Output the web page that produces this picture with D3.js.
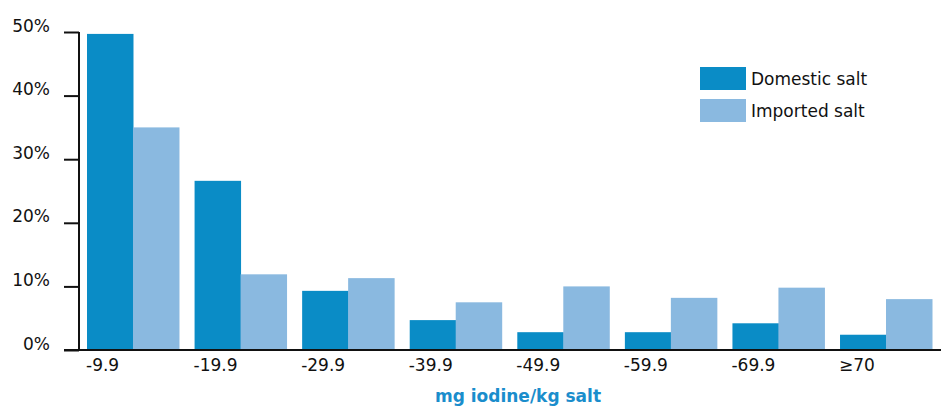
<!DOCTYPE html>
<html>
<head>
<meta charset="utf-8">
<script src="https://cdn.jsdelivr.net/npm/d3@7"></script>
<style>
  html, body { margin: 0; padding: 0; background: #fff; }
  svg { display: block; font-family: "DejaVu Sans", sans-serif; }
</style>
</head>
<body>
<svg id="chart" width="941" height="406"></svg>
<script>
// Iodine content bins (mg iodine/kg salt)
const categories = ["-9.9", "-19.9", "-29.9", "-39.9", "-49.9", "-59.9", "-69.9", "\u226570"];
// Share of samples in each bin, percent
const domestic = [49.7, 26.6, 9.3, 4.7, 2.8, 2.8, 4.2, 2.4];
const imported = [35.0, 11.9, 11.3, 7.5, 10.0, 8.2, 9.8, 8.0];
const seriesNames = ["Domestic salt", "Imported salt"];
const yTicks = [0, 10, 20, 30, 40, 50];

const colors = ["#0a8cc6", "#8ab9e0"];

const svg = d3.select("#chart");

const x = d3.scaleBand().domain(categories).range([87, 932]).paddingInner(0.145).paddingOuter(0);
const xSub = d3.scaleBand().domain([0, 1]).range([0, x.bandwidth()]);
const y = d3.scaleLinear().domain([0, 50]).range([350, 32]);

const rows = categories.map((c, i) => ({ cat: c, vals: [domestic[i], imported[i]] }));

// Bars
const groups = svg.append("g").selectAll("g").data(rows).join("g")
  .attr("transform", d => `translate(${x(d.cat)},0)`);
groups.selectAll("rect").data(d => d.vals).join("rect")
  .attr("x", (d, i) => xSub(i))
  .attr("width", xSub.bandwidth() + 0.5)
  .attr("y", d => y(d))
  .attr("height", d => y(0) - y(d))
  .attr("fill", (d, i) => colors[i]);

// Y axis
const yAxis = svg.append("g").attr("transform", "translate(79,0)")
  .call(d3.axisLeft(y).tickValues(yTicks).tickSize(15).tickFormat(d => d + "%"));
yAxis.select(".domain").attr("stroke", "#111").attr("stroke-width", 2)
  .attr("d", `M0,${y(50)}V${y(0)}`);
yAxis.selectAll(".tick line").attr("stroke", "#111").attr("stroke-width", 2);
yAxis.selectAll(".tick text")
  .attr("x", -29).attr("dy", "-0.05em")
  .attr("font-size", 17).attr("fill", "#111")
  .attr("font-family", "DejaVu Sans, sans-serif");

// X axis baseline
svg.append("line")
  .attr("x1", 64).attr("x2", 941)
  .attr("y1", y(0)).attr("y2", y(0))
  .attr("stroke", "#111").attr("stroke-width", 2);

// Category labels, left-aligned with each group
svg.append("g").selectAll("text").data(categories).join("text")
  .attr("x", d => x(d) - 1)
  .attr("y", 371)
  .attr("font-size", 17)
  .attr("fill", "#111")
  .text(d => d);

// X axis title
svg.append("text")
  .attr("x", 518).attr("y", 402)
  .attr("text-anchor", "middle")
  .attr("font-size", 17).attr("font-weight", "bold")
  .attr("fill", "#1a8dcc")
  .text("mg iodine/kg salt");

// Legend
const legend = svg.append("g").selectAll("g").data(seriesNames).join("g")
  .attr("transform", (d, i) => `translate(700,${67 + i * 32})`);
legend.append("rect").attr("width", 46).attr("height", 23).attr("fill", (d, i) => colors[i]);
legend.append("text").attr("x", 51).attr("y", 18).attr("font-size", 17).attr("fill", "#111").text(d => d);
</script>
</body>
</html>
